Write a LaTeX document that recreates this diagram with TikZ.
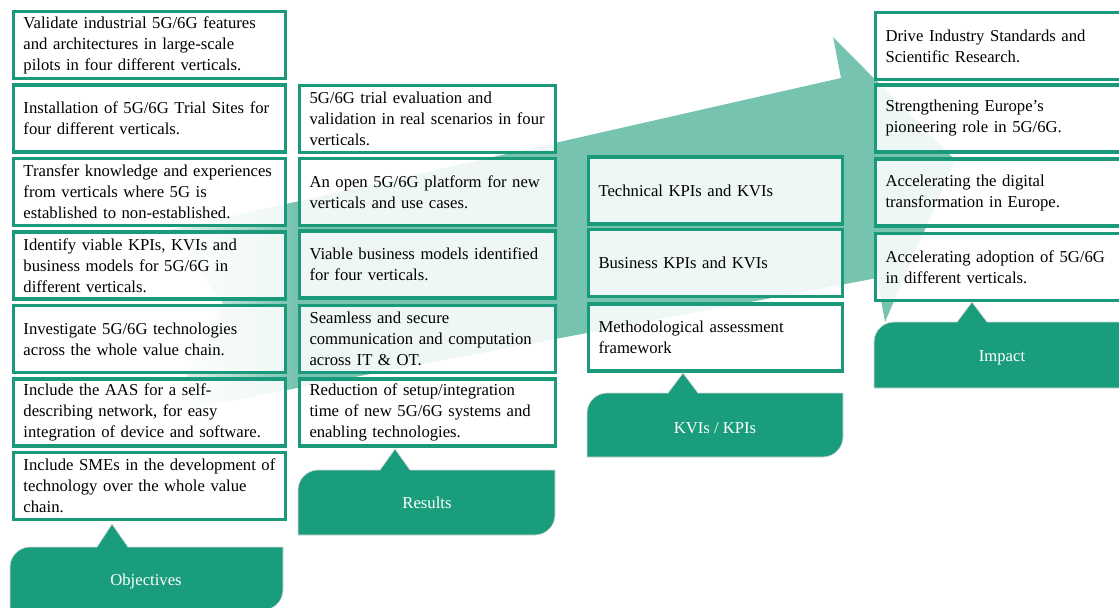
\documentclass[tikz,border=0pt]{standalone}
\usepackage{fontspec}
\setmainfont{Liberation Serif}
\definecolor{boxline}{RGB}{27,154,123}
\definecolor{callfill}{RGB}{26,157,125}
\definecolor{arrowteal}{RGB}{118,195,176}
\begin{document}
\begin{tikzpicture}[x=0.75pt, y=-0.75pt,
	item/.style={draw=boxline, line width=2.6pt, fill=white, fill opacity=0.88, text opacity=1, align=left, inner xsep=7.5pt, inner ysep=0pt, minimum height=50.25pt, font=\fontsize{12.5}{15.75}\selectfont},
	objitem/.style={item, text width=189pt},
	resitem/.style={item, text width=177pt},
	kpiitem/.style={item, text width=175.5pt},
	impitem/.style={item, text width=180pt},
	callout/.style={fill=callfill, draw=black!15, line width=0.5pt},
	calltext/.style={text=white, font=\fontsize{12.5}{15}\selectfont}]
	\useasboundingbox (0,0) rectangle (1119,607);
	\clip (0,0) rectangle (1119,607);
	\begin{scope}
		\clip (172,230)--(841,78)--(833,37)--(955,160)--(885,322)--(877,278)--(170,412)--(223,303)--cycle;
		\fill[arrowteal] (150,20) rectangle (970,430);
		\shade[left color=white, right color=arrowteal] (150,20) rectangle (295,430);
	\end{scope}
	
	\node[objitem] at (149.5,45)(o1){Validate industrial 5G/6G features\\and architectures in large-scale\\pilots in four different verticals.};
	\node[objitem] at (149.5,118.5)(o2){Installation of 5G/6G Trial Sites for\\four different verticals.};
	\node[objitem] at (149.5,192)(o3){Transfer knowledge and experiences\\from verticals where 5G is\\established to non-established.};
	\node[objitem] at (149.5,265.5)(o4){Identify viable KPIs, KVIs and\\business models for 5G/6G in\\different verticals.};
	\node[objitem] at (149.5,339)(o5){Investigate 5G/6G technologies\\across the whole value chain.};
	\node[objitem] at (149.5,412.5)(o6){Include the AAS for a self-\\describing network, for easy\\integration of device and software.};
	\node[objitem] at (149.5,486)(o7){Include SMEs in the development of\\technology over the whole value\\chain.};
	
	\node[resitem] at (427.5,119)(r1){5G/6G trial evaluation and\\validation in real scenarios in four\\verticals.};
	\node[resitem] at (427.5,192)(r2){An open 5G/6G platform for new\\verticals and use cases.};
	\node[resitem] at (427.5,264.5)(r3){Viable business models identified\\for four verticals.};
	\node[resitem] at (427.5,339)(r4){Seamless and secure\\communication and computation\\across IT \& OT.};
	\node[resitem] at (427.5,412.5)(r5){Reduction of setup/integration\\time of new 5G/6G systems and\\enabling technologies.};
	
	\node[kpiitem] at (715.5,190.5)(k1){Technical KPIs and KVIs};
	\node[kpiitem] at (715.5,263)(k2){Business KPIs and KVIs};
	\node[kpiitem] at (715.5,337.5)(k3){Methodological assessment\\framework};
	
	\node[impitem] at (1005.5,46)(i1){Drive Industry Standards and\\Scientific Research.};
	\node[impitem] at (1005.5,118.5)(i2){Strengthening Europe’s\\pioneering role in 5G/6G.};
	\node[impitem] at (1005.5,192.5)(i3){Accelerating the digital\\transformation in Europe.};
	\node[impitem] at (1005.5,267)(i4){Accelerating adoption of 5G/6G\\in different verticals.};
	
	\filldraw[callout] (10,610)--(10,567) .. controls (10,556) and (19,547) .. (30,547)--(97,547)--(112,524)--(128,547)--(283,547)--(283,590) .. controls (283,601) and (274,610) .. (263,610)--cycle;
	\filldraw[callout] (298,535)--(298,490) .. controls (298,479) and (307,470) .. (318,470)--(380,470)--(395,449)--(410,470)--(555,470)--(555,515) .. controls (555,526) and (546,535) .. (535,535)--cycle;
	\filldraw[callout] (587,457)--(587,413) .. controls (587,402) and (596,393) .. (607,393)--(668,393)--(683,373)--(698,393)--(843,393)--(843,437) .. controls (843,448) and (834,457) .. (823,457)--cycle;
	\filldraw[callout] (874,388)--(874,342) .. controls (874,331) and (883,322) .. (894,322)--(957,322)--(972,302)--(987,322)--(1140,322)--(1140,388)--cycle;
	
	\node[calltext] at (146,581)(objlbl){Objectives};
	\node[calltext] at (427,503)(reslbl){Results};
	\node[calltext] at (715,428)(kpilbl){KVIs / KPIs};
	\node[calltext] at (1002,358)(implbl){Impact};
\end{tikzpicture}
\end{document}
